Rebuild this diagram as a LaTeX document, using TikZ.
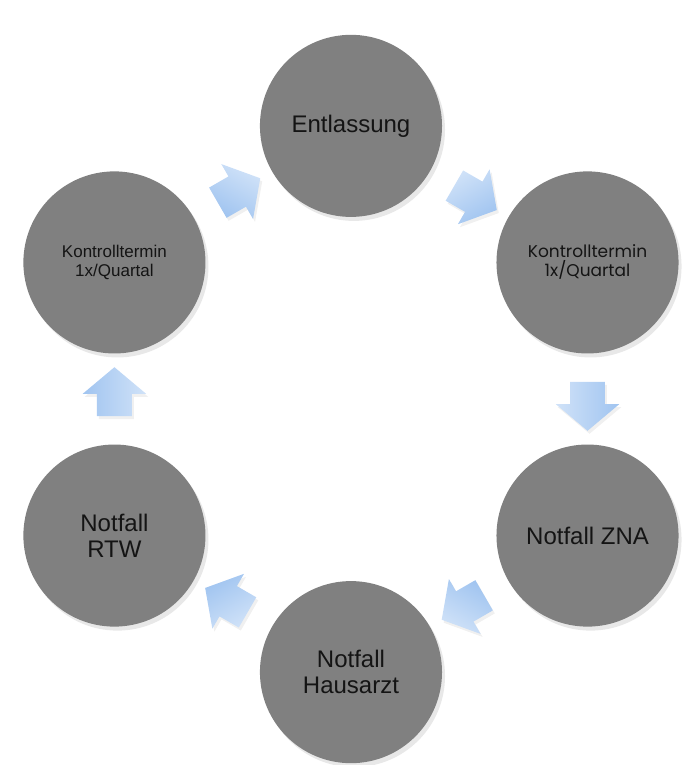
\documentclass[tikz,border=0pt]{standalone}
\usepackage{fontspec}
\setmainfont{Liberation Sans}
\newfontfamily\roundfont{Poppins}
\usetikzlibrary{shapes.arrows, positioning, calc, shadows}
\definecolor{stGray}{RGB}{128,128,128}
\definecolor{stText}{RGB}{20,20,20}
\definecolor{stArrowTop}{RGB}{208,226,248}
\definecolor{stArrowBottom}{RGB}{160,196,240}

\begin{document}
\begin{tikzpicture}[
      station/.style={circle, fill=stGray, minimum size=3.2cm, inner sep=0pt, align=center,
        text=stText, font=\fontsize{12}{13}\selectfont,
        drop shadow={shadow xshift=1.5pt, shadow yshift=-2pt, opacity=0.18}},
      small/.style={font=\fontsize{8.5}{9.5}\selectfont},
      flow/.style={single arrow, minimum height=0.86cm, minimum width=1.1cm,
        inner xsep=0pt, inner ysep=0.3cm,
        single arrow head extend=0.25cm, single arrow head indent=0pt, single arrow tip angle=100,
        rotate=#1, top color=stArrowTop, bottom color=stArrowBottom, shading angle=-#1,
        drop shadow={shadow xshift=1pt, shadow yshift=-1.5pt, opacity=0.12}}
    ]
      \useasboundingbox (-6.168,7.012) rectangle (5.922,-6.432);

      \node[station] (entl) at (0,4.8) {Entlassung};
      \node[station, small] (kontrR) at (4.157,2.4) {\roundfont Kontrolltermin\\\roundfont 1x/Quartal};
      \node[station] (zna) at (4.157,-2.4) {Notfall ZNA};
      \node[station] (arzt) at (0,-4.8) {Notfall\\Hausarzt};
      \node[station] (rtw) at (-4.157,-2.4) {Notfall\\RTW};
      \node[station, small] (kontrL) at (-4.157,2.4) {Kontrolltermin\\1x/Quartal};

      % block arrows between the stations
      \node[flow=-30] (a1) at ($(entl)!0.5!(kontrR)$) {};
      \node[flow=-90] (a2) at ($(kontrR)!0.5!(zna)$) {};
      \node[flow=210] (a3) at ($(zna)!0.5!(arzt)$) {};
      \node[flow=150] (a4) at ($(arzt)!0.5!(rtw)$) {};
      \node[flow=90] (a5) at ($(rtw)!0.5!(kontrL)$) {};
      \node[flow=30] (a6) at ($(kontrL)!0.5!(entl)$) {};
    \end{tikzpicture}
\end{document}
